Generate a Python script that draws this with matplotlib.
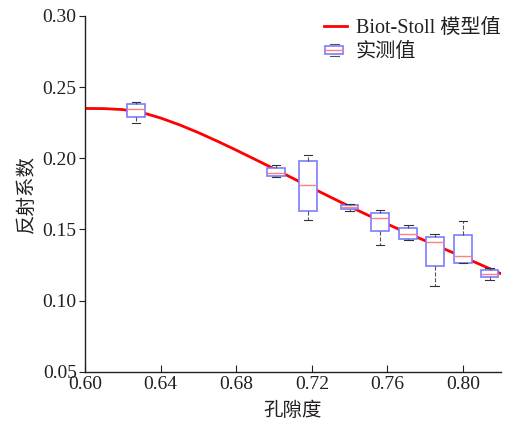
import numpy as np
import matplotlib
matplotlib.use('Agg')
import matplotlib.pyplot as plt
from matplotlib.legend_handler import HandlerBase
from matplotlib.patches import Rectangle
from matplotlib.lines import Line2D

# Biot-Stoll model curve
model_x = [0.60, 0.61, 0.62, 0.63, 0.64, 0.65, 0.66, 0.67, 0.68, 0.69, 0.70, 0.71,
           0.72, 0.73, 0.74, 0.75, 0.76, 0.77, 0.78, 0.79, 0.80, 0.81, 0.82]
model_y = [0.2350, 0.2349, 0.2342, 0.2322, 0.2283, 0.2235, 0.2180, 0.2120, 0.2057,
           0.1992, 0.1926, 0.1859, 0.1792, 0.1726, 0.1661, 0.1598, 0.1537, 0.1478,
           0.1420, 0.1363, 0.1306, 0.1248, 0.1189]

# measured values: box statistics per porosity
porosity = [0.627, 0.701, 0.718, 0.740, 0.756, 0.771, 0.785, 0.800, 0.814]
whislo = [0.2250, 0.1870, 0.1564, 0.1631, 0.1388, 0.1423, 0.1104, 0.1261, 0.1146]
q1     = [0.2290, 0.1873, 0.1627, 0.1645, 0.1486, 0.1432, 0.1245, 0.1261, 0.1163]
med    = [0.2344, 0.1896, 0.1814, 0.1659, 0.1580, 0.1467, 0.1409, 0.1315, 0.1188]
q3     = [0.2379, 0.1934, 0.1979, 0.1669, 0.1613, 0.1512, 0.1444, 0.1460, 0.1212]
whishi = [0.2393, 0.1955, 0.2021, 0.1676, 0.1638, 0.1533, 0.1467, 0.1559, 0.1228]

box_col = '#7b7bff'
med_col = '#ff8080'
txt_col = '#231f20'

plt.rcParams['font.family'] = ['Liberation Serif', 'Noto Sans CJK SC']
plt.rcParams['text.color'] = txt_col
plt.rcParams['axes.labelcolor'] = txt_col
plt.rcParams['xtick.color'] = txt_col
plt.rcParams['ytick.color'] = txt_col


class BoxHandler(HandlerBase):
    def create_artists(self, legend, orig_handle, xdescent, ydescent,
                       width, height, fontsize, trans):
        cx = width * 0.45
        bw = width * 0.8
        bh = height * 0.5
        cy = height / 2
        arts = []
        arts.append(Line2D([cx - bw * 0.25, cx + bw * 0.25], [cy + bh * 0.85, cy + bh * 0.85],
                           color='#555555', lw=0.8, transform=trans))
        arts.append(Line2D([cx - bw * 0.25, cx + bw * 0.25], [cy - bh * 0.85, cy - bh * 0.85],
                           color='#555555', lw=0.8, transform=trans))
        arts.append(Rectangle((cx - bw / 2, cy - bh / 2), bw, bh, facecolor='white',
                              edgecolor=box_col, lw=1.2, transform=trans))
        arts.append(Line2D([cx - bw / 2, cx + bw / 2], [cy, cy], color=med_col,
                           lw=1.0, transform=trans))
        return arts


fig = plt.figure(figsize=(5.08, 4.26), dpi=100)
ax = fig.add_axes([0.1673, 0.1275, 0.8187, 0.835])

line, = ax.plot(model_x, model_y, color='#ff0000', lw=2.0, zorder=2,
                label='Biot-Stoll 模型值')

stats = []
for i in range(len(porosity)):
    stats.append(dict(whislo=whislo[i], q1=q1[i], med=med[i], q3=q3[i],
                      whishi=whishi[i], fliers=[]))

bp = ax.bxp(stats, positions=porosity, widths=0.0093, manage_ticks=False,
            patch_artist=True,
            boxprops=dict(facecolor='white', edgecolor=box_col, lw=1.2),
            medianprops=dict(color=med_col, lw=1.0),
            whiskerprops=dict(color='#555555', lw=0.8, ls='--'),
            capprops=dict(color='#333333', lw=0.8),
            capwidths=0.0045, zorder=3)

ax.set_xlim(0.60, 0.82)
ax.set_ylim(0.05, 0.30)
ax.set_xticks([0.60, 0.64, 0.68, 0.72, 0.76, 0.80])
ax.set_yticks([0.05, 0.10, 0.15, 0.20, 0.25, 0.30])
ax.xaxis.set_major_formatter(matplotlib.ticker.FormatStrFormatter('%.2f'))
ax.yaxis.set_major_formatter(matplotlib.ticker.FormatStrFormatter('%.2f'))
ax.spines['top'].set_visible(False)
ax.spines['right'].set_visible(False)
for s in ['left', 'bottom']:
    ax.spines[s].set_linewidth(1.0)
    ax.spines[s].set_color(txt_col)
ax.tick_params(axis='x', direction='in', length=5, labelsize=14, pad=3)
ax.tick_params(axis='y', direction='out', length=4, labelsize=14, pad=2)

ax.set_xlabel('孔隙度', fontsize=14, family=['Noto Sans CJK SC'], labelpad=5)
ax.set_ylabel('反射系数', fontsize=14, family=['Noto Sans CJK SC'], labelpad=4)

box_handle = Rectangle((0, 0), 1, 1)
ax.legend([line, box_handle], ['Biot-Stoll 模型值', '实测值'],
          handler_map={Rectangle: BoxHandler()},
          loc='upper right', bbox_to_anchor=(1.042, 1.043), frameon=False,
          fontsize=14.5, handlelength=1.1, handletextpad=0.45, labelspacing=0.25)

plt.savefig('out.png', dpi=100)
